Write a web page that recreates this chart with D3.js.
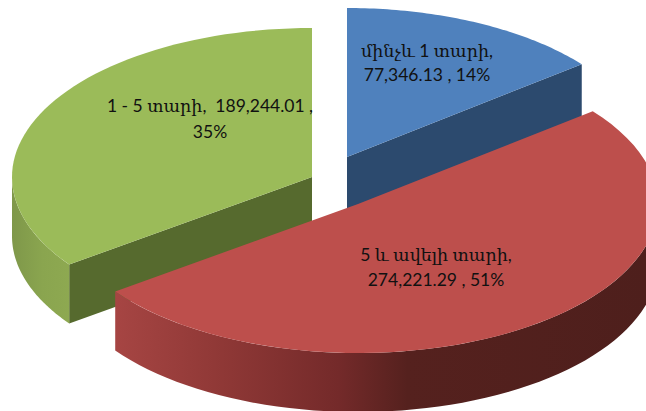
<!DOCTYPE html>
<html>
<head>
<meta charset="utf-8">
<script src="https://d3js.org/d3.v7.min.js"></script>
<style>
  body { margin: 0; background: #fff; overflow: hidden; }
  text { font-family: Lato, "DejaVu Serif", serif; font-size: 17.5px; fill: #111; }
</style>
</head>
<body>
<div id="chart"></div>
<script>
// chart values
var categories = ["մինչև 1 տարի", "5 և ավելի տարի", "1 - 5 տարի"];
var values = [77346.13, 274221.29, 189244.01];
var valueLabels = ["77,346.13", "274,221.29", "189,244.01"];
var percents = ["14%", "51%", "35%"];

var width = 646, height = 411;
var rx = 300, ry = 149, depth = 59;

// each slice is pulled out on its own, draw order keeps red in front
var centers = [[347, 157], [358, 204], [312, 177]];
var topColors = ["#4f81bd", "#bd4f4c", "#9bbb59"];
var faceColors = ["#2c4a6e", null, "#566a2e"];
var drawOrder = [0, 2, 1];

var labelPos = [[427, 57, 81], [436, 261, 286], [210, 112, 138]];
var labelLines = [
  [categories[0] + ",", valueLabels[0] + " , " + percents[0]],
  [categories[1] + ",", valueLabels[1] + " , " + percents[1]],
  [categories[2] + ",  " + valueLabels[2] + " ,", percents[2]]
];

var sx = d3.scaleLinear().domain([-1, 1]).range([-rx, rx]);
var sy = d3.scaleLinear().domain([-1, 1]).range([ry, -ry]);

var svg = d3.select("#chart")
  .append("svg")
    .attr("width", width)
    .attr("height", height)
    .style("display", "block");

var defs = svg.append("defs");

function addGradient(id, x1, x2, stops) {
  var g = defs.append("linearGradient")
    .attr("id", id)
    .attr("gradientUnits", "userSpaceOnUse")
    .attr("x1", x1).attr("x2", x2)
    .attr("y1", 0).attr("y2", 0);
  stops.forEach(function(s) {
    g.append("stop").attr("offset", s[0]).attr("stop-color", s[1]);
  });
}
addGradient("wall1", 116, 646, [[0, "#a64543"], [0.2, "#8f3836"], [0.42, "#742a2a"], [0.55, "#55211e"], [1, "#4e1f1c"]]);
addGradient("wall2", 13, 72, [[0, "#7f984a"], [0.5, "#8aa54f"], [1, "#8ea951"]]);

var pie = d3.pie().sort(null).value(function(d) { return d; });
var arcs = pie(values);
var line = d3.line();

function rim(c, a0, a1, dy) {
  return d3.range(61).map(function(i) {
    var a = a0 + (a1 - a0) * i / 60;
    return [c[0] + sx(Math.sin(a)), c[1] + sy(Math.cos(a)) + dy];
  });
}

drawOrder.forEach(function(i) {
  var a = arcs[i], c = centers[i];
  var g = svg.append("g");

  // cut face, only the one turned towards the viewer
  if (faceColors[i]) {
    var t = i === 0 ? a.endAngle : a.startAngle;
    var tip = rim(c, t, t, 0)[0];
    g.append("path")
      .attr("d", line([c, tip, [tip[0], tip[1] + depth], [c[0], c[1] + depth]]) + "Z")
      .attr("fill", faceColors[i]);
  }

  // outer wall, front half of the ellipse only
  var w0 = Math.max(a.startAngle, Math.PI / 2);
  var w1 = Math.min(a.endAngle, Math.PI * 1.5);
  if (w1 > w0) {
    var pts = rim(c, w0, w1, 0).concat(rim(c, w1, w0, depth));
    g.append("path")
      .attr("d", line(pts) + "Z")
      .attr("fill", "url(#wall" + i + ")");
  }

  // top surface
  g.append("path")
    .attr("d", line([c].concat(rim(c, a.startAngle, a.endAngle, 0))) + "Z")
    .attr("fill", topColors[i]);
});

labelLines.forEach(function(lines, i) {
  lines.forEach(function(s, j) {
    svg.append("text")
      .attr("x", labelPos[i][0])
      .attr("y", labelPos[i][j + 1])
      .attr("text-anchor", "middle")
      .style("white-space", "pre")
      .text(s);
  });
});
</script>
</body>
</html>
